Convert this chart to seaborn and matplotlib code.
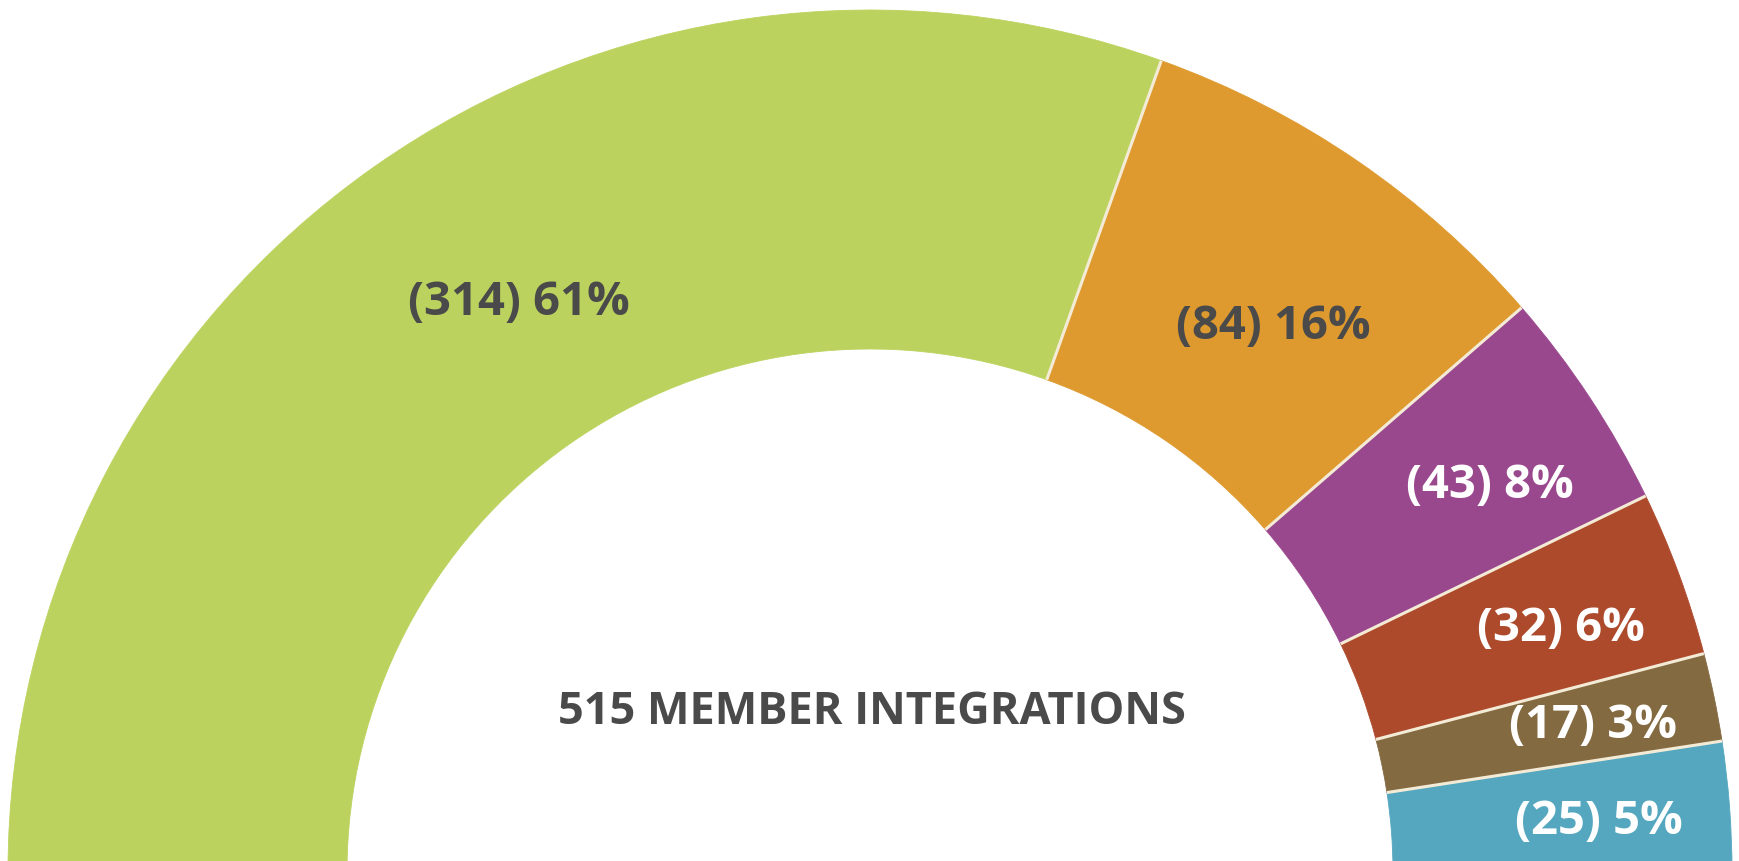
import matplotlib
matplotlib.use("Agg")
import matplotlib.pyplot as plt
import numpy as np
import seaborn as sns

# ── Data ───────────────────────────────────────────────────────────────────
counts      = [314, 84, 43, 32, 17, 25]
colors      = ["#BBD35E", "#DE9A2F", "#9A488D", "#AD4A2C", "#846A41", "#55A7BF"]
text_colors = ["#4A4A4A", "#4A4A4A", "#FFFFFF", "#FFFFFF", "#FFFFFF", "#FFFFFF"]
label_r     = [0.777, 0.788, 0.848, 0.85, 0.856, 0.848]   # fraction of outer radius
label_dang  = [-3.5, -2.0, -1.4, -0.8, -0.2, -0.3]        # degrees off mid-angle
center_title = "MEMBER INTEGRATIONS"

total = sum(counts)
labels = [f"({c}) {round(c / total * 100)}%" for c in counts]

sns.set_theme(style="white")
plt.rcParams["font.family"] = ["Open Sans", "DejaVu Sans"]

W, H = 1740, 862
CX, CY = 870, -11
R_OUT, R_IN = 862, 523
SEP = "#F4EBD6"

fig = plt.figure(figsize=(W / 100, H / 100), dpi=100)
ax = fig.add_axes([0, 0, 1, 1])

# half donut: real slices on top, an invisible filler for the bottom half
wedges, _ = ax.pie(
    counts + [total],
    colors=colors + ["none"],
    startangle=180,
    counterclock=False,
    center=(CX, CY),
    radius=R_OUT,
    wedgeprops=dict(width=R_OUT - R_IN, linewidth=0.6),
)
wedges[-1].set_visible(False)
for w, c in zip(wedges[:-1], colors):
    w.set_edgecolor(c)

# light separators between slices only (no outline on the arcs)
for w in wedges[:-2]:
    a = np.deg2rad(min(w.theta1, w.theta2))
    ax.plot([CX + R_IN * np.cos(a), CX + R_OUT * np.cos(a)],
            [CY + R_IN * np.sin(a), CY + R_OUT * np.sin(a)],
            color=SEP, lw=2.2, solid_capstyle="butt")

for w, lab, tc, fr, da in zip(wedges[:-1], labels, text_colors, label_r, label_dang):
    mid = np.deg2rad((w.theta1 + w.theta2) / 2 + da)
    x = CX + R_OUT * fr * np.cos(mid)
    y = CY + R_OUT * fr * np.sin(mid)
    ax.text(x, y, lab, ha="center", va="center", color=tc,
            fontsize=34, fontweight="bold")

ax.text(CX + 2, 138, f"{total} {center_title}", ha="center", va="baseline",
        color="#4A4A4A", fontsize=32.5, fontweight="bold")

ax.set_xlim(0, W)
ax.set_ylim(0, H)
ax.set_aspect("equal")
ax.axis("off")

fig.savefig("out.png", dpi=100, facecolor="white")
